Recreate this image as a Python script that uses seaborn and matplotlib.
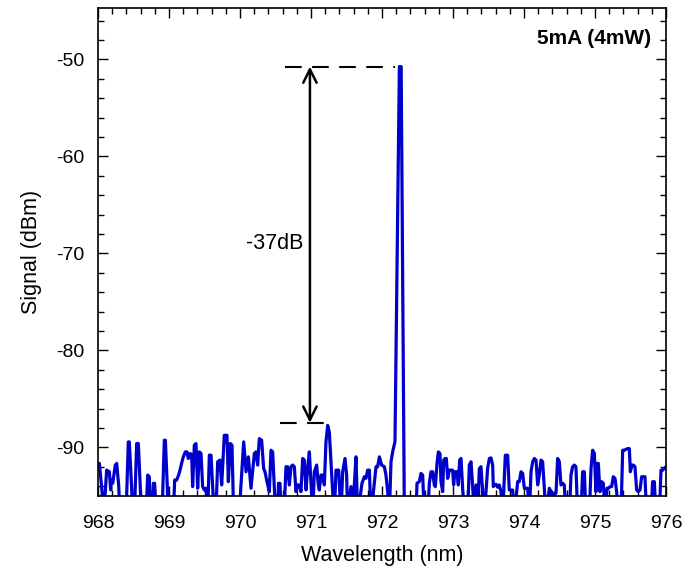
import matplotlib
matplotlib.use("Agg")
import matplotlib.pyplot as plt
import seaborn as sns
import pandas as pd
from matplotlib.ticker import MultipleLocator

# ---- data (-97 = below the visible floor) ----
wavelength = [
    968.000, 968.019, 968.057, 968.075, 968.103, 968.122, 968.160, 968.179, 968.188, 968.207,
    968.244, 968.263, 968.291, 968.310, 968.395, 968.427, 968.441, 968.474, 968.488, 968.512,
    968.545, 968.568, 968.596, 968.610, 968.676, 968.700, 968.723, 968.737, 968.761, 968.780,
    968.798, 968.817, 968.902, 968.934, 968.949, 968.977, 968.986, 969.061, 969.080, 969.108,
    969.136, 969.155, 969.183, 969.202, 969.230, 969.254, 969.272, 969.301, 969.319,
    969.333, 969.357, 969.380, 969.404, 969.427, 969.451, 969.474, 969.498, 969.521, 969.545,
    969.568, 969.592, 969.615, 969.639, 969.660, 969.686, 969.718, 969.742, 969.779, 969.817,
    969.836, 969.864, 969.887, 969.911, 969.990, 970.014, 970.052, 970.085, 970.118, 970.155,
    970.202, 970.225, 970.249, 970.272, 970.305, 970.333, 970.352, 970.380, 970.413, 970.437,
    970.460, 970.484, 970.507, 970.530, 970.543, 970.563, 970.582, 970.620, 970.648, 970.671,
    970.695, 970.718, 970.742, 970.765, 970.789, 970.812, 970.836, 970.859, 970.883, 970.906,
    970.930, 970.953, 970.977, 971.000, 971.024, 971.047, 971.080, 971.103, 971.117, 971.141,
    971.164, 971.188, 971.211, 971.235, 971.258, 971.282, 971.305, 971.329, 971.352, 971.390,
    971.423, 971.446, 971.479, 971.502, 971.517, 971.563, 971.587, 971.610, 971.634, 971.657,
    971.718, 971.751, 971.775, 971.798, 971.822, 971.845, 971.892, 971.916, 971.939, 971.963,
    971.995, 972.033, 972.056, 972.080, 972.103, 972.127, 972.150, 972.183, 972.245, 972.270,
    972.315, 972.479, 972.493, 972.526, 972.549, 972.573, 972.596, 972.643, 972.667, 972.690,
    972.714, 972.737, 972.751, 972.775, 972.794, 972.817, 972.831, 972.855, 972.869, 972.887,
    972.906, 972.925, 972.948, 972.972, 972.995, 973.009, 973.028, 973.056, 973.075, 973.094,
    973.113, 973.136, 973.160, 973.207, 973.230, 973.254, 973.277, 973.301, 973.324, 973.348,
    973.371, 973.394, 973.418, 973.441, 973.465, 973.488, 973.512, 973.535, 973.559, 973.568,
    973.582, 973.606, 973.629, 973.653, 973.676, 973.700, 973.737, 973.770, 973.793, 973.817,
    973.840, 973.864, 973.911, 973.934, 973.958, 973.981, 974.005, 974.028, 974.052, 974.075,
    974.099, 974.122, 974.146, 974.169, 974.193, 974.216, 974.239, 974.263, 974.286, 974.310,
    974.357, 974.380, 974.404, 974.427, 974.451, 974.474, 974.498, 974.521, 974.545, 974.568,
    974.592, 974.639, 974.662, 974.685, 974.709, 974.732, 974.756, 974.803, 974.826, 974.850,
    974.873, 974.920, 974.944, 974.967, 974.991, 975.014, 975.028, 975.047, 975.070, 975.094,
    975.117, 975.146, 975.169, 975.188, 975.216, 975.235, 975.258, 975.282, 975.305, 975.329,
    975.366, 975.390, 975.413, 975.437, 975.460, 975.484, 975.498, 975.521, 975.540, 975.563,
    975.587, 975.610, 975.634, 975.657, 975.681, 975.704, 975.728, 975.789, 975.812, 975.836,
    975.859, 975.906, 975.930, 975.953, 976.000,
]
signal = [
    -91.65, -91.65, -94.56, -97.00, -94.56, -92.34, -92.51, -94.39, -93.36, -93.70,
    -91.82, -91.65, -93.87, -97.00, -97.00, -89.43, -89.43, -94.21, -97.00, -97.00,
    -89.60, -89.60, -94.21, -97.00, -97.00, -92.85, -93.02, -97.00, -97.00, -93.70,
    -93.70, -97.00, -97.00, -89.26, -89.26, -94.21, -97.00, -97.00, -93.36, -93.36,
    -92.85, -92.34, -91.48, -90.97, -90.46, -90.46, -91.14, -90.63, -90.80,
    -94.04, -89.77, -89.60, -94.21, -90.46, -90.63, -94.04, -94.39, -94.21, -97.00,
    -90.80, -90.80, -94.04, -97.00, -97.00, -91.48, -91.31, -93.87, -88.75, -88.75,
    -93.53, -89.60, -89.77, -97.00, -97.00, -93.87, -89.43, -92.51, -90.97, -94.21,
    -90.63, -90.46, -91.82, -89.09, -89.26, -92.17, -92.51, -93.53, -94.56, -90.29,
    -90.46, -94.21, -97.00, -97.00, -93.70, -93.70, -97.00, -97.00, -91.99, -91.99,
    -93.87, -91.99, -91.82, -91.99, -94.56, -93.87, -93.87, -94.56, -91.14, -91.31,
    -94.39, -92.17, -90.46, -93.70, -97.00, -92.51, -91.82, -93.87, -94.39, -92.85,
    -92.85, -93.87, -89.43, -87.73, -88.41, -91.48, -94.56, -97.00, -92.34, -92.34,
    -97.00, -92.51, -91.14, -92.85, -97.00, -94.04, -97.00, -93.87, -90.97, -97.00,
    -93.70, -93.02, -93.19, -92.34, -92.34, -97.00, -93.70, -91.99, -91.99, -90.97,
    -91.82, -91.99, -92.85, -94.56, -97.00, -91.48, -90.46, -89.40, -50.74, -50.74,
    -97.00, -97.00, -93.70, -93.53, -92.68, -92.85, -97.00, -97.00, -93.70, -92.51,
    -92.51, -93.87, -94.04, -91.65, -90.46, -90.63, -93.53, -94.56, -91.31, -91.14,
    -91.14, -93.19, -92.34, -92.34, -92.34, -93.87, -92.51, -92.51, -93.87, -91.31,
    -91.14, -94.21, -97.00, -97.00, -91.82, -91.48, -94.04, -97.00, -93.87, -97.00,
    -92.17, -91.99, -94.56, -97.00, -94.56, -92.17, -91.14, -91.08, -91.82, -94.04,
    -93.87, -93.80, -94.10, -93.87, -94.56, -97.00, -90.80, -90.80, -94.39, -94.39,
    -94.39, -97.00, -93.53, -93.53, -92.51, -92.68, -94.21, -94.21, -94.21, -97.00,
    -92.51, -91.48, -91.14, -91.31, -93.87, -92.85, -91.31, -91.48, -94.21, -97.00,
    -94.21, -94.56, -97.00, -94.73, -94.73, -91.14, -91.48, -93.87, -93.70, -93.87,
    -97.00, -97.00, -92.85, -91.99, -91.82, -91.99, -97.00, -97.00, -92.51, -92.51,
    -97.00, -97.00, -92.17, -90.29, -90.63, -94.56, -91.65, -91.65, -94.56, -93.53,
    -93.70, -97.00, -94.21, -94.21, -94.04, -94.04, -93.02, -93.19, -94.56, -97.00,
    -97.00, -90.29, -90.29, -90.19, -90.12, -90.12, -92.51, -91.82, -91.82, -91.99,
    -94.39, -94.56, -94.39, -93.02, -93.02, -93.02, -97.00, -97.00, -93.53, -93.53,
    -97.00, -97.00, -92.34, -92.34, -92.00,
]
peak_level = -50.74
floor_level = -87.45
delta_label = "-37dB"
condition_label = "5mA (4mW)"
x_ticks = [968, 969, 970, 971, 972, 973, 974, 975, 976]
y_ticks = [-90, -80, -70, -60, -50]

df = pd.DataFrame({"Wavelength (nm)": wavelength, "Signal (dBm)": signal})

sns.set_style("ticks")
plt.rcParams["font.family"] = ["Liberation Sans", "DejaVu Sans"]
plt.rcParams["axes.unicode_minus"] = False
plt.rcParams["text.color"] = "black"
plt.rcParams["axes.labelcolor"] = "black"
plt.rcParams["xtick.color"] = "black"
plt.rcParams["ytick.color"] = "black"

fig = plt.figure(figsize=(6.97, 5.72), dpi=100)
ax = fig.add_axes([0.1406, 0.133, 0.8149, 0.853])

sns.lineplot(data=df, x="Wavelength (nm)", y="Signal (dBm)", ax=ax,
             color="#0000CC", lw=2.3, estimator=None, sort=False)

ax.set_xlim(968, 976)
ax.set_ylim(-95, -44.7)
ax.set_xticks(x_ticks)
ax.set_yticks(y_ticks)
ax.xaxis.set_minor_locator(MultipleLocator(0.2))
ax.yaxis.set_minor_locator(MultipleLocator(2))
ax.tick_params(which="both", direction="in", top=True, right=True,
               width=1.0, labelsize=14, color="black", labelcolor="black")
ax.tick_params(which="major", length=7)
ax.tick_params(axis="x", which="major", pad=14)
ax.tick_params(axis="y", which="major", pad=10)
ax.tick_params(which="minor", length=4)
for s in ax.spines.values():
    s.set_linewidth(1.2)
    s.set_color("black")

ax.set_xlabel("Wavelength (nm)", fontsize=15.5, labelpad=9)
ax.set_ylabel("Signal (dBm)", fontsize=15.5, labelpad=10)

# annotation: dashed reference levels and double arrow
ax.plot([970.63, 972.18], [peak_level, peak_level], color="black", lw=1.5,
        dashes=(8, 5))
ax.plot([970.57, 971.28], [floor_level, floor_level], color="black", lw=1.5,
        dashes=(8, 5))
ax.annotate("", xy=(970.985, peak_level), xytext=(970.985, floor_level),
            arrowprops=dict(arrowstyle="<->", color="black", lw=1.8,
                            mutation_scale=24, shrinkA=0, shrinkB=0))
ax.text(970.49, -69.0, delta_label, fontsize=15.5, ha="center", va="center")
ax.text(0.973, 0.938, condition_label, transform=ax.transAxes, fontsize=15,
        fontweight="bold", ha="right", va="center")

fig.savefig("out.png", dpi=100)
